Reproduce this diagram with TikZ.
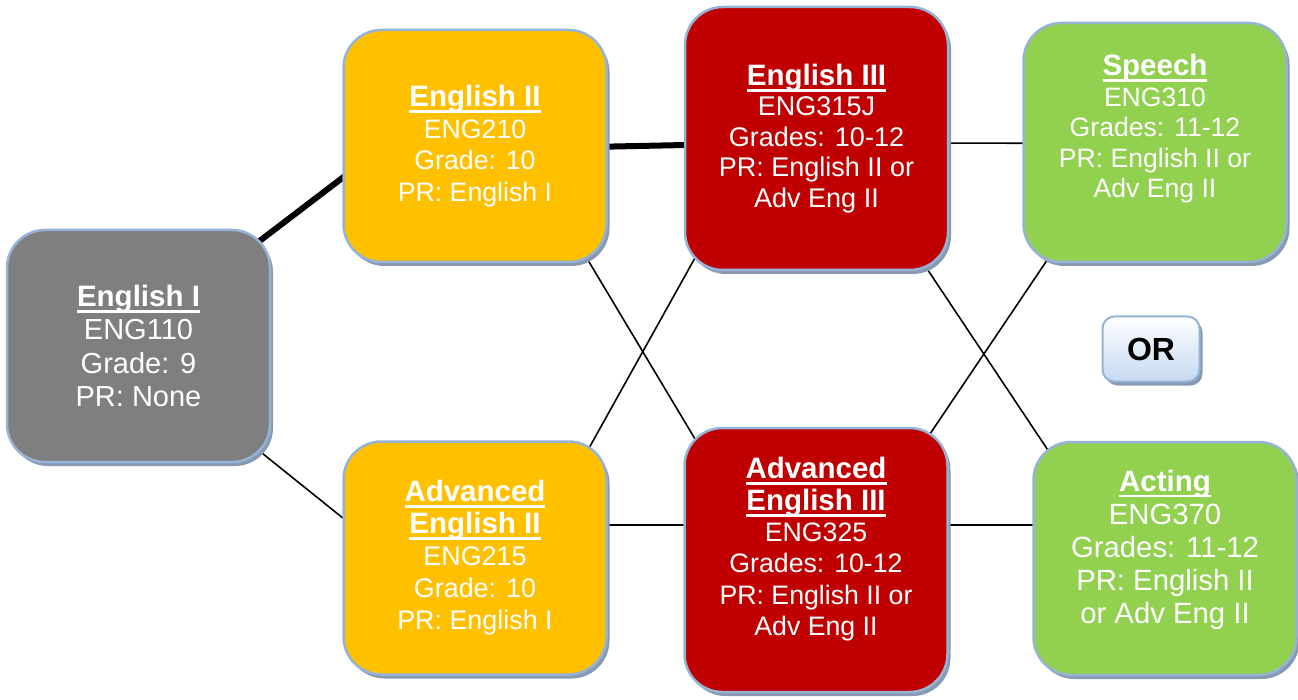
\documentclass[tikz,border=0pt]{standalone}
\usepackage{fontspec}
\setmainfont{Liberation Sans}
\usetikzlibrary{calc, backgrounds, shadows}
\definecolor{boxedge}{RGB}{149,179,215}
\definecolor{boxshade}{RGB}{136,153,178}
\definecolor{coregray}{RGB}{127,127,127}
\definecolor{coreyellow}{RGB}{255,192,0}
\definecolor{corered}{RGB}{192,0,0}
\definecolor{electgreen}{RGB}{146,208,80}
\definecolor{orblue}{RGB}{197,217,241}

\newcommand{\ctitle}[1]{\setbox0\hbox{\fontsize{29.5}{30}\selectfont\bfseries #1}\rlap{\rule[-6.3pt]{\wd0}{2.8pt}}\box0}

\tikzset{
    course/.style={draw=boxedge, line width=2.5pt, rounded corners=38pt, inner sep=0pt,
        align=center, text=white, minimum width=263pt,
        drop shadow={shadow xshift=3pt, shadow yshift=-4pt, fill=boxshade, opacity=1}},
    link/.style={line width=1.6pt},
    mainlink/.style={line width=6pt}
}

\begin{document}
\begin{tikzpicture}[x=1pt, y=-1pt]
        \useasboundingbox (0,0) rectangle (1298,700);
        \begin{scope}
            \node [course, fill=coregray, minimum height=232pt, font=\fontsize{29}{33.5}\selectfont] (eng1) at (138.5, 346) {\ctitle{English I}\\ENG110\\Grade: 9\\PR: None};
            \node [course, fill=coreyellow, minimum height=232pt, font=\fontsize{26.7}{31.5}\selectfont] (eng2) at (475, 146) {\ctitle{English II}\\ENG210\\Grade: 10\\PR: English I};
            \node [course, fill=coreyellow, minimum height=233pt, font=\fontsize{26.9}{32}\selectfont] (adveng2) at (475, 558) {\ctitle{Advanced}\\\ctitle{English II}\\ENG215\\Grade: 10\\PR: English I};
            \node [course, fill=corered, minimum height=263pt, font=\fontsize{27}{30.5}\selectfont] (eng3) at (816.5, 138.5) {\ctitle{English III}\\ENG315J\\Grades: 10-12\\PR: English II or\\Adv Eng II};
            \node [course, fill=corered, minimum height=264pt, text depth=27pt, font=\fontsize{26.7}{31.3}\selectfont] (adveng3) at (816, 560) {\ctitle{Advanced}\\\ctitle{English III}\\ENG325\\Grades: 10-12\\PR: English II or\\Adv Eng II};
            \node [course, fill=electgreen, minimum height=239pt, text depth=33pt, font=\fontsize{26.6}{30.5}\selectfont] (speech) at (1155, 142.5) {\ctitle{Speech}\\ENG310\\Grades: 11-12\\PR: English II or\\Adv Eng II};
            \node [course, fill=electgreen, minimum height=233pt, text depth=24pt, font=\fontsize{29.3}{33}\selectfont] (acting) at (1165, 558.5) {\ctitle{Acting}\\ENG370\\Grades: 11-12\\PR: English II\\or Adv Eng II};

            \node [draw=boxedge, line width=2pt, rounded corners=12pt, top color=white, bottom color=orblue,
                minimum width=97pt, minimum height=65pt, font=\fontsize{32}{36}\selectfont\bfseries,
                drop shadow={shadow xshift=3pt, shadow yshift=-4pt, fill=boxshade, opacity=1}] (orbox) at (1151, 349) {OR};

            \begin{scope}[on background layer]
                \draw [mainlink] ($(eng1)+(104,-92)$) -- ($(eng2)+(-117,20)$);
                \draw [mainlink] ($(eng2)+(115,1)$) -- ($(eng3)+(-116.5,6.2)$);
                \draw [link] ($(eng1)+(106,93)$) -- ($(adveng2)+(-116,-27)$);
                \draw [link] ($(eng2)+(101.4,94.8)$) -- ($(adveng3)+(-109,-101)$);
                \draw [link] ($(adveng2)+(105.3,-94.3)$) -- ($(eng3)+(-111.8,102)$);
                \draw [link] ($(adveng2)+(110,-33)$) -- ($(adveng3)+(-110,-35)$);
                \draw [link] ($(eng3)+(110,4.5)$) -- ($(speech)+(-110,0.8)$);
                \draw [link] ($(eng3)+(99.1,113.2)$) -- ($(acting)+(-107.2,-93.5)$);
                \draw [link] ($(adveng3)+(102.1,-108.4)$) -- ($(speech)+(-97.8,102.6)$);
                \draw [link] ($(adveng3)+(110,-35)$) -- ($(acting)+(-110,-33.5)$);
            \end{scope}
        \end{scope}
\end{tikzpicture}
\end{document}
